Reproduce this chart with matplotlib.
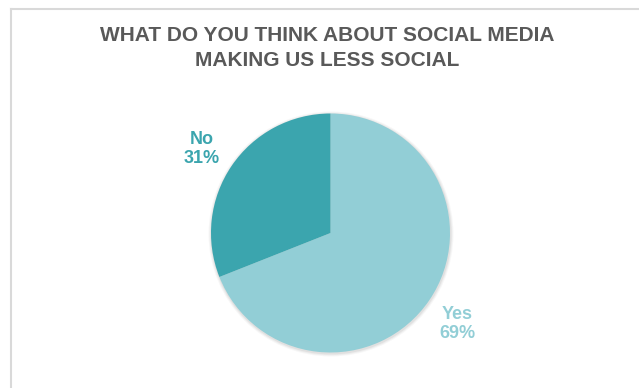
import matplotlib.pyplot as plt
from matplotlib.patches import Circle

# Survey answers
labels = ['Yes', 'No']
shares = [69, 31]
colors = ['#92CED6', '#3BA5AE']

plt.rcParams['font.family'] = ['Liberation Sans', 'DejaVu Sans']

fig = plt.figure(figsize=(6.39, 3.88), dpi=100)
ax = fig.add_axes([0, 0, 1, 1])

# chart frame (only top and left edges fall inside the image)
ax.plot([10.5, 639], [379, 379], color='#D9D9D9', lw=1.5)
ax.plot([10.5, 10.5], [0, 379], color='#D9D9D9', lw=1.5)

cx, cy, r = 330.5, 155, 119.5

# soft shadow behind the pie
for i, a in enumerate([0.05, 0.04, 0.03]):
    ax.add_patch(Circle((cx + 0.5, cy - 1), r + 1 + i, color='black', alpha=a, lw=0))

wedges, _ = ax.pie(shares, colors=colors, startangle=90, counterclock=False,
                   center=(cx, cy), radius=r, frame=True,
                   wedgeprops=dict(linewidth=0))
ax.set_xlim(0, 639)
ax.set_ylim(0, 388)
ax.set_aspect('equal')
ax.axis('off')

ax.text(202, 388 - 149, f'{labels[1]}\n{shares[1]}%', color=colors[1], fontsize=13,
        fontweight='bold', ha='center', va='center', linespacing=1.2)
ax.text(457, 388 - 324, f'{labels[0]}\n{shares[0]}%', color=colors[0], fontsize=13,
        fontweight='bold', ha='center', va='center', linespacing=1.2)

ax.text(327, 388 - 48, 'WHAT DO YOU THINK ABOUT SOCIAL MEDIA\nMAKING US LESS SOCIAL',
        color='#595959', fontsize=15, fontweight='bold', ha='center', va='center',
        linespacing=1.35)

fig.savefig('out.png', dpi=100)
